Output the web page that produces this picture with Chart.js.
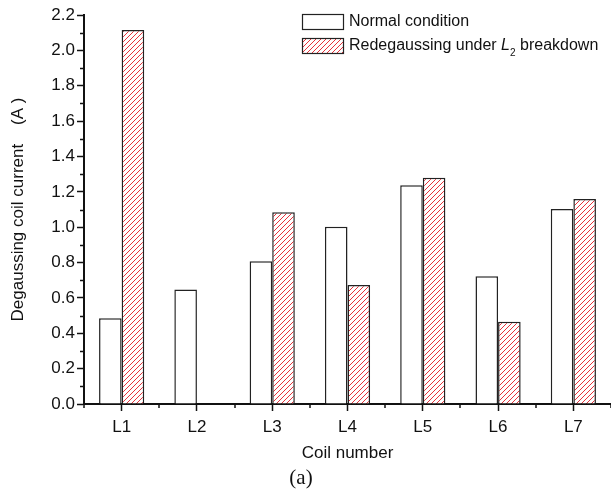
<!DOCTYPE html>
<html>
<head>
<meta charset="utf-8">
<script src="https://cdn.jsdelivr.net/npm/chart.js@4"></script>
<style>
  html, body { margin: 0; padding: 0; background: #fff; }
  #wrap { width: 611px; height: 492px; }
</style>
</head>
<body>
<div id="wrap"><canvas id="chart" width="611" height="492"></canvas></div>
<script>
const coils = ["L1", "L2", "L3", "L4", "L5", "L6", "L7"];
const normalCondition = [0.485, 0.648, 0.808, 1.002, 1.237, 0.722, 1.103];
const redegaussL2 = [2.115, null, 1.085, 0.673, 1.28, 0.465, 1.16];
const yTicks = [0, 0.2, 0.4, 0.6, 0.8, 1.0, 1.2, 1.4, 1.6, 1.8, 2.0, 2.2];

const FONT = "'Liberation Sans', Arial, sans-serif";

function makeHatch() {
    const c = document.createElement("canvas");
    c.width = 5;
    c.height = 5;
    const g = c.getContext("2d");
    g.fillStyle = "#fff";
    g.fillRect(0, 0, 5, 5);
    g.strokeStyle = "#e8323a";
    g.lineWidth = 1;
    g.beginPath();
    g.moveTo(-1, 6);
    g.lineTo(6, -1);
    g.moveTo(-1, 1);
    g.lineTo(1, -1);
    g.moveTo(4, 6);
    g.lineTo(6, 4);
    g.stroke();
    return document.getElementById("chart").getContext("2d").createPattern(c, "repeat");
}
const hatch = makeHatch();

// minor ticks, legend and the "(a)" caption
const extras = {
    id: "extras",
    afterDraw(chart) {
        const ctx = chart.ctx;
        const x = chart.scales.x;
        const y = chart.scales.y;
        const area = chart.chartArea;
        ctx.save();
        ctx.strokeStyle = "#111";
        ctx.lineWidth = 1.5;
        ctx.beginPath();
        for (let v = 0.1; v < 2.2; v += 0.2) {
            const py = Math.round(y.getPixelForValue(v)) + 0.5;
            ctx.moveTo(area.left - 4, py);
            ctx.lineTo(area.left, py);
        }
        const step = x.getPixelForValue(1) - x.getPixelForValue(0);
        for (let i = 0; i <= coils.length; i++) {
            const px = Math.round(x.getPixelForValue(0) - step / 2 + i * step);
            ctx.moveTo(px, area.bottom);
            ctx.lineTo(px, area.bottom + 4);
        }
        ctx.stroke();

        // legend
        const boxes = [
            { y: 14, fill: "#fff" },
            { y: 38, fill: hatch }
        ];
        boxes.forEach(b => {
            ctx.fillStyle = b.fill;
            ctx.fillRect(302, b.y, 42, 16);
            ctx.strokeStyle = "#222";
            ctx.lineWidth = 1.2;
            ctx.strokeRect(302.5, b.y + 0.5, 41, 15);
        });
        ctx.fillStyle = "#111";
        ctx.textBaseline = "middle";
        ctx.textAlign = "left";
        ctx.font = "16px " + FONT;
        ctx.fillText("Normal condition", 349, 22);
        let tx = 349;
        const part1 = "Redegaussing under ";
        ctx.fillText(part1, tx, 46);
        tx += ctx.measureText(part1).width;
        ctx.font = "italic 16px " + FONT;
        ctx.fillText("L", tx, 46);
        tx += ctx.measureText("L").width;
        ctx.font = "10px " + FONT;
        ctx.fillText("2", tx, 53);
        tx += ctx.measureText("2").width;
        ctx.font = "16px " + FONT;
        ctx.fillText(" breakdown", tx, 46);

        // caption
        ctx.textAlign = "center";
        ctx.font = "21px 'Liberation Serif', 'Times New Roman', serif";
        ctx.fillText("(a)", 301, 478);
        ctx.restore();
    }
};

new Chart(document.getElementById("chart").getContext("2d"), {
    type: "bar",
    data: {
        labels: coils,
        datasets: [
            {
                label: "Normal condition",
                data: normalCondition,
                backgroundColor: "#fff",
                borderColor: "#222",
                borderWidth: 1.5,
                borderSkipped: "bottom",
            },
            {
                label: "Redegaussing under L2 breakdown",
                data: redegaussL2,
                backgroundColor: hatch,
                borderColor: "#222",
                borderWidth: 1.5,
                borderSkipped: "bottom",
            },
        ],
    },
    options: {
        responsive: false,
        animation: false,
        layout: {
            padding: { top: 15, right: 0, bottom: 0, left: 0 },
        },
        datasets: {
            bar: {
                categoryPercentage: 0.6,
                barPercentage: 1.0,
            },
        },
        scales: {
            x: {
                offset: true,
                grid: {
                    offset: false,
                    drawOnChartArea: false,
                    tickLength: 7,
                    tickWidth: 1.5,
                    tickColor: "#111",
                },
                border: { color: "#111", width: 2 },
                ticks: {
                    color: "#111",
                    font: { family: FONT, size: 17 },
                    padding: 6,
                },
                title: {
                    display: true,
                    text: "Coil number",
                    color: "#111",
                    font: { family: FONT, size: 17 },
                    padding: { top: 4, bottom: 28 },
                },
                afterFit(scale) {
                    scale.height = 88;
                },
            },
            y: {
                min: 0,
                max: 2.2,
                afterBuildTicks(scale) {
                    scale.ticks = yTicks.map(v => ({ value: v }));
                },
                grid: {
                    drawOnChartArea: false,
                    tickLength: 7,
                    tickWidth: 1.5,
                    tickColor: "#111",
                },
                border: { color: "#111", width: 2 },
                ticks: {
                    color: "#111",
                    font: { family: FONT, size: 17 },
                    padding: 2,
                    callback: v => v.toFixed(1),
                },
                title: {
                    display: true,
                    text: "Degaussing coil current    (A )",
                    color: "#111",
                    font: { family: FONT, size: 17 },
                    padding: { top: 8, bottom: 0 },
                },
                afterFit(scale) {
                    scale.width = 84;
                },
            },
        },
        plugins: {
            legend: { display: false },
            tooltip: { enabled: false },
        },
    },
    plugins: [extras],
});
</script>
</body>
</html>
